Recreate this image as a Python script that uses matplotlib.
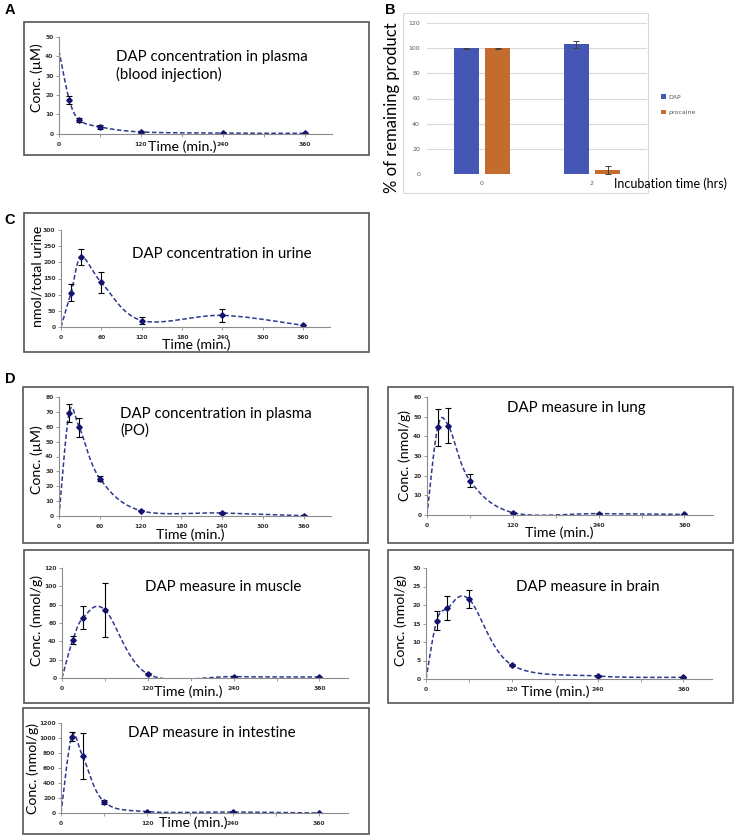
import numpy as np
import matplotlib
matplotlib.use("Agg")
import matplotlib.pyplot as plt
from matplotlib.patches import Rectangle

# ---- data ----
t_min = [0, 15, 30, 60, 120, 240, 360]

# A: plasma, blood injection
a_conc = [43, 17.5, 7, 3.4, 0.8, 0.2, 0.1]
a_err = [0, 2, 0.8, 1.2, 0.4, 0.2, 0.1]

# B: stability bars
b_times = ["0", "2"]
b_dap = [100, 103]
b_dap_err = [0.3, 3]
b_proc = [100, 3]
b_proc_err = [0.3, 3]

# C: urine
c_vals = [0, 106, 216, 138, 20, 36, 5]
c_err = [0, 27, 24, 32, 10, 20, 0]

# D panels
d_plasma = [0, 69.4, 59.5, 25.2, 3.6, 2, 0.2]
d_plasma_err = [0, 6, 6.5, 2, 0.5, 0.5, 0.2]
d_lung = [0, 44.6, 45.4, 17.5, 1.2, 0.7, 0.3]
d_lung_err = [0, 9.5, 9, 3.4, 0.3, 0.3, 0.2]
d_muscle = [0, 41.4, 66, 74.4, 4.4, 1.5, 1.1]
d_muscle_err = [0, 4, 13, 29.5, 0.8, 0.5, 0.3]
d_brain = [0, 15.8, 19.1, 21.6, 3.8, 0.8, 0.45]
d_brain_err = [0, 2.5, 3.2, 2.4, 0.3, 0.3, 0.2]
d_intest = [0, 1020, 765, 150, 18, 13, 0]
d_intest_err = [0, 55, 305, 25, 5, 5, 0]

W, H = 737, 836
fig = plt.figure(figsize=(W / 100, H / 100), dpi=100)
FONT = "Lato"
LINE_C = "#2E3A8C"
MARK_C = "#141470"


def add_ax(x0, x1, ytop, ybot):
    return fig.add_axes([x0 / W, 1 - ybot / H, (x1 - x0) / W, (ybot - ytop) / H])


def box(x0, y0, x1, y1, ec="#555555", lw=1.2):
    fig.add_artist(Rectangle((x0 / W, 1 - y1 / H), (x1 - x0) / W, (y1 - y0) / H,
                             transform=fig.transFigure, fill=False, ec=ec, lw=lw))


def ftext(x, y, s, **kw):
    fig.text(x / W, 1 - y / H, s, **kw)


def smooth(xs, ys, n=40):
    # excel-like smoothed line (catmull-rom bezier)
    p = np.column_stack([xs, ys]).astype(float)
    ext = np.vstack([p[0], p, p[-1]])
    out = []
    for i in range(len(p) - 1):
        p0, p3 = ext[i + 1], ext[i + 2]
        c1 = p0 + (ext[i + 2] - ext[i]) / 6
        c2 = p3 - (ext[i + 3] - ext[i + 1]) / 6
        s = np.linspace(0, 1, n)[:, None]
        seg = ((1 - s) ** 3) * p0 + 3 * ((1 - s) ** 2) * s * c1 + 3 * (1 - s) * s ** 2 * c2 + s ** 3 * p3
        out.append(seg)
    out = np.vstack(out)
    return out[:, 0], out[:, 1]


def line_panel(xpix, ypix, vals, errs, ymax, ystep, xstep, title, tpos, ylabel, ylpos, xlpos):
    ax = add_ax(xpix[0], xpix[1], ypix[0], ypix[1])
    sx, sy = smooth(t_min, vals)
    ax.plot(sx, sy, ls=(0, (3, 1.6)), color=LINE_C, lw=1.1)
    ax.errorbar(t_min[1:], vals[1:], yerr=errs[1:], fmt="D", ms=2.8, color=MARK_C,
                ecolor="black", elinewidth=0.8, capsize=2, capthick=0.8)
    ax.set_xlim(0, 400)
    ax.set_ylim(0, ymax)
    ax.set_xticks(np.arange(0, 361, xstep))
    ax.set_xticks(np.arange(0, 401, 60), minor=True)
    ax.set_yticks(np.arange(0, ymax + 0.1, ystep))
    for s in ["top", "right"]:
        ax.spines[s].set_visible(False)
    for s in ["left", "bottom"]:
        ax.spines[s].set_color("#8c8c8c")
        ax.spines[s].set_linewidth(0.8)
    ax.tick_params(which="both", length=2, width=0.6, color="#8c8c8c", labelsize=4.3, pad=2)
    ax.tick_params(axis="x", pad=4)
    for lab in ax.get_xticklabels() + ax.get_yticklabels():
        lab.set_fontweight("bold")
        lab.set_color("#333333")
    ftext(tpos[0], tpos[1], title, fontsize=10.8, family=FONT, va="top", ha="left", linespacing=1.25)
    ftext(ylpos[0], ylpos[1], ylabel, fontsize=10.2, family=FONT, rotation=90, ha="center", va="center")
    ftext(xlpos[0], xlpos[1], "Time (min.)", fontsize=10.2, family=FONT, ha="center", va="center")
    return ax


# panel boxes
box(24, 22, 369, 155)
box(24, 213, 369, 352)
box(23, 387, 368, 543)
box(388, 387, 733, 543)
box(24, 550, 369, 703)
box(388, 550, 733, 703)
box(23, 708, 369, 834)

# A
line_panel((59, 332), (37, 133.5), a_conc, a_err, 50, 10, 120,
           "DAP concentration in plasma\n(blood injection)", (116, 50),
           "Conc. (\u00b5M)", (37, 78), (182, 147))
# C
line_panel((61, 330), (230, 327), c_vals, c_err, 300, 50, 60,
           "DAP concentration in urine", (132, 247),
           "nmol/total urine", (37, 276), (196, 345))
# D
line_panel((59, 331), (397, 516), d_plasma, d_plasma_err, 80, 10, 60,
           "DAP concentration in plasma\n(PO)", (120, 407),
           "Conc. (\u00b5M)", (37, 460), (190, 535))
line_panel((427, 713), (397, 515), d_lung, d_lung_err, 60, 10, 120,
           "DAP measure in lung", (507, 401),
           "Conc. (nmol/g)", (405, 456), (559, 533))
line_panel((62, 348), (568, 678), d_muscle, d_muscle_err, 120, 20, 120,
           "DAP measure in muscle", (145, 580),
           "Conc. (nmol/g)", (37, 620), (188, 692))
line_panel((426, 712), (568, 679), d_brain, d_brain_err, 30, 5, 120,
           "DAP measure in brain", (516, 580),
           "Conc. (nmol/g)", (401, 620), (555, 692))
line_panel((61, 348), (723, 813), d_intest, d_intest_err, 1200, 200, 120,
           "DAP measure in intestine", (128, 726),
           "Conc. (nmol/g)", (33, 768), (193, 823))

# B: bar chart
box(403, 13, 648, 193, ec="#d9d9d9", lw=0.8)
axb = add_ax(427, 647, 23, 174)
xb = np.arange(len(b_times))
bw = 0.227
axb.bar(xb - 0.145, b_dap, bw, yerr=b_dap_err, color="#4656B5", label="DAP",
        error_kw=dict(ecolor="#404040", elinewidth=0.7, capsize=2, capthick=0.7), zorder=3)
axb.bar(xb + 0.145, b_proc, bw, yerr=b_proc_err, color="#C46B2F", label="procaine",
        error_kw=dict(ecolor="#404040", elinewidth=0.7, capsize=2, capthick=0.7), zorder=3)
axb.set_xlim(-0.5, 1.5)
axb.set_ylim(0, 120)
axb.set_yticks(np.arange(0, 121, 20))
axb.set_xticks(xb)
axb.set_xticklabels(b_times)
axb.yaxis.grid(True, color="#d9d9d9", lw=0.8, zorder=0)
for s in axb.spines.values():
    s.set_visible(False)
axb.tick_params(length=0, labelsize=4.5, labelcolor="#595959", pad=5)
axb.legend(loc="center left", bbox_to_anchor=(1.04, 0.46), frameon=False, fontsize=4.5,
           labelcolor="#595959", handlelength=0.7, handleheight=0.7, handletextpad=0.4,
           labelspacing=1.6)
ftext(392, 108, "% of remaining product", fontsize=12, family=FONT, rotation=90,
      ha="center", va="center")
ftext(671, 184, "Incubation time (hrs)", fontsize=9, family=FONT, ha="center", va="center")

# panel letters
for letter, (x, y) in {"A": (10, 10), "B": (390, 10), "C": (10, 220), "D": (10, 379)}.items():
    ftext(x, y, letter, fontsize=10.5, fontweight="bold", family="Liberation Sans",
          ha="center", va="center")

fig.savefig("out.png", dpi=100)
